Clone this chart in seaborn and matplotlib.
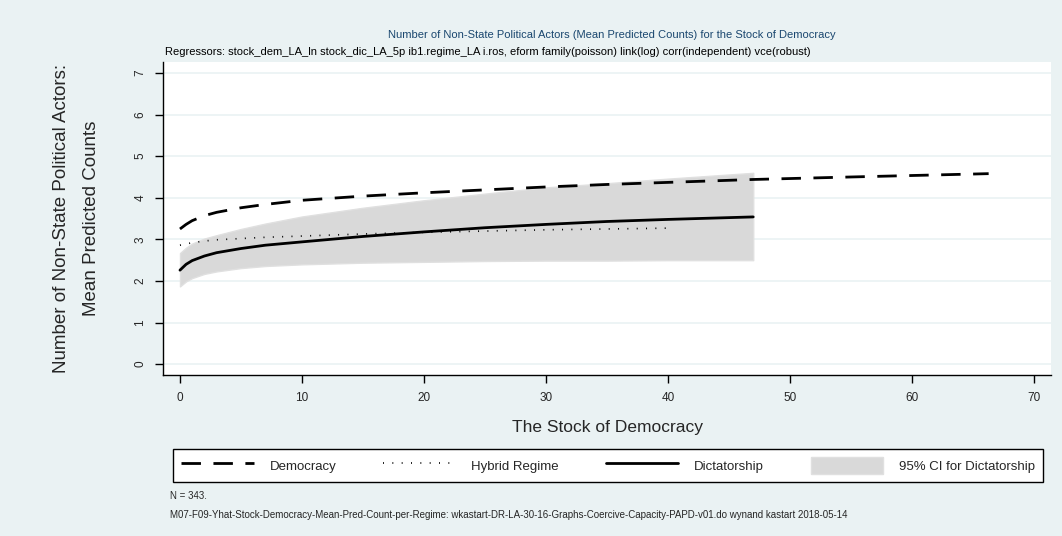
import numpy as np
import pandas as pd
import matplotlib
matplotlib.use("Agg")
import matplotlib.pyplot as plt
import seaborn as sns
from matplotlib.lines import Line2D
from matplotlib.patches import Patch

# values
dem_x = [0, 0.5, 1, 2, 3, 5, 7, 10, 15, 20, 25, 30, 35, 40, 47, 55, 66.3]
dem_y = [3.25, 3.36, 3.45, 3.57, 3.65, 3.76, 3.84, 3.94, 4.04, 4.12, 4.19, 4.26, 4.32, 4.37, 4.44, 4.50, 4.58]

hyb_x = [0, 1, 2, 3, 5, 7, 10, 15, 20, 25, 30, 35, 40]
hyb_y = [2.86, 2.92, 2.96, 2.99, 3.02, 3.05, 3.08, 3.13, 3.17, 3.20, 3.23, 3.25, 3.27]

dic_x = [0, 0.5, 1, 2, 3, 5, 7, 10, 15, 20, 25, 30, 35, 40, 47]
dic_y = [2.26, 2.40, 2.49, 2.60, 2.68, 2.78, 2.86, 2.94, 3.07, 3.18, 3.28, 3.36, 3.43, 3.48, 3.54]
ci_hi = [2.67, 2.80, 2.90, 3.02, 3.10, 3.25, 3.38, 3.55, 3.76, 3.94, 4.10, 4.25, 4.35, 4.46, 4.60]
ci_lo = [1.87, 1.99, 2.07, 2.17, 2.23, 2.31, 2.36, 2.40, 2.44, 2.46, 2.48, 2.49, 2.49, 2.50, 2.50]

x_ticks = [0, 10, 20, 30, 40, 50, 60, 70]
y_ticks = [0, 1, 2, 3, 4, 5, 6, 7]

bg = "#eaf2f3"
sns.set_style("white")
plt.rcParams["font.family"] = ["Liberation Sans", "DejaVu Sans"]

fig = plt.figure(figsize=(10.62, 5.36), dpi=100, facecolor=bg)
ax = fig.add_axes([0.1535, 0.3004, 0.836, 0.5836])
ax.set_facecolor("white")

for yv in y_ticks:
    ax.axhline(yv, color=bg, lw=1.2, zorder=0)

ax.fill_between(dic_x, ci_lo, ci_hi, color="#d9d9d9", edgecolor="#e0e0e0", lw=1, zorder=1)

df_dem = pd.DataFrame({"x": dem_x, "y": dem_y})
df_hyb = pd.DataFrame({"x": hyb_x, "y": hyb_y})
df_dic = pd.DataFrame({"x": dic_x, "y": dic_y})

sns.lineplot(data=df_dem, x="x", y="y", ax=ax, color="black", lw=2, zorder=3)
ax.lines[-1].set_dashes([7, 4.5])
sns.lineplot(data=df_hyb, x="x", y="y", ax=ax, color="black", lw=1.2, zorder=3)
ax.lines[-1].set_dashes([0.6, 5])
sns.lineplot(data=df_dic, x="x", y="y", ax=ax, color="black", lw=2, zorder=3)

ax.set_xlim(-1.39, 71.4)
ax.set_ylim(-0.26, 7.26)
ax.set_xticks(x_ticks)
ax.set_yticks(y_ticks)
ax.set_xlabel("")
ax.set_ylabel("")
for s in ["top", "right"]:
    ax.spines[s].set_visible(False)
for s in ["left", "bottom"]:
    ax.spines[s].set_color("black")
    ax.spines[s].set_linewidth(1)
ax.tick_params(axis="both", direction="out", length=6, width=1, color="black",
               labelsize=8.5, pad=6, left=True, bottom=True)
for lab in ax.get_yticklabels():
    lab.set_rotation(90)
    lab.set_va("center")

fig.text(0.576, 0.935, "Number of Non-State Political Actors (Mean Predicted Counts) for the Stock of Democracy",
         ha="center", va="center", fontsize=8, color="#1a476f")
fig.text(0.155, 0.903, "Regressors: stock_dem_LA_ln stock_dic_LA_5p ib1.regime_LA i.ros, eform family(poisson) link(log) corr(independent) vce(robust)",
         ha="left", va="center", fontsize=8, color="black")
fig.text(0.072, 0.592, "Number of Non-State Political Actors:\nMean Predicted Counts",
         ha="center", va="center", rotation=90, fontsize=13.5, linespacing=2.0)
fig.text(0.572, 0.2015, "The Stock of Democracy", ha="center", va="center", fontsize=12.5)
fig.text(0.160, 0.075, "N = 343.", ha="left", va="center", fontsize=7)
fig.text(0.160, 0.039, "M07-F09-Yhat-Stock-Democracy-Mean-Pred-Count-per-Regime: wkastart-DR-LA-30-16-Graphs-Coercive-Capacity-PAPD-v01.do wynand kastart 2018-05-14",
         ha="left", va="center", fontsize=7)

handles = [
    Line2D([0], [0], color="black", lw=2, dashes=[7, 4.5]),
    Line2D([0], [0], color="black", lw=1.2, dashes=[0.6, 5]),
    Line2D([0], [0], color="black", lw=2),
    Patch(facecolor="#d9d9d9", edgecolor="#e0e0e0"),
]
labels = ["Democracy", "Hybrid Regime", "Dictatorship", "95% CI for Dictatorship"]
leg = fig.legend(handles, labels, loc="center", bbox_to_anchor=(0.163, 0.1007, 0.819, 0.0616),
                 mode="expand", ncol=4, fancybox=False, frameon=True, fontsize=9.5,
                 handlelength=5.5, handleheight=1.6, borderaxespad=0, borderpad=0.6,
                 handletextpad=1.2)
leg.get_frame().set_edgecolor("black")
leg.get_frame().set_linewidth(1)
leg.get_frame().set_facecolor("white")
leg.get_frame().set_alpha(None)

fig.savefig("out.png", dpi=100, facecolor=bg)
